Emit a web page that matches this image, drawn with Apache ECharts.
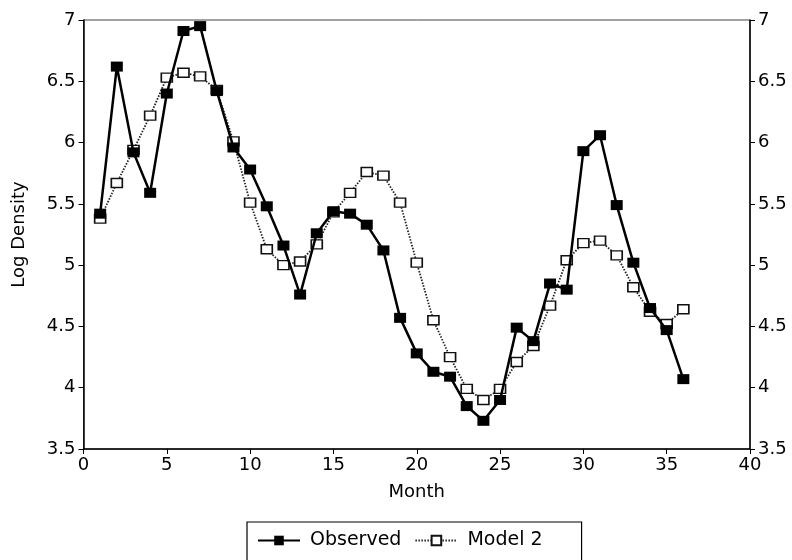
<!DOCTYPE html>
<html>
<head>
<meta charset="utf-8">
<script src="https://cdn.jsdelivr.net/npm/echarts@6/dist/echarts.min.js"></script>
<style>
  html, body { margin: 0; padding: 0; background: #fff; }
  #chart { width: 792px; height: 560px; }
</style>
</head>
<body>
<div id="chart"></div>
<script>
// Monthly log density: observed vs. fitted Model 2
const months = [1,2,3,4,5,6,7,8,9,10,11,12,13,14,15,16,17,18,19,20,21,22,23,24,25,26,27,28,29,30,31,32,33,34,35,36];
const observed = [5.42,6.62,5.92,5.59,6.40,6.91,6.95,6.42,5.96,5.78,5.48,5.16,4.76,5.26,5.44,5.42,5.33,5.12,4.57,4.28,4.13,4.09,3.85,3.73,3.90,4.49,4.38,4.85,4.80,5.93,6.06,5.49,5.02,4.65,4.47,4.07];
const model2 = [5.38,5.67,5.94,6.22,6.53,6.57,6.54,6.43,6.01,5.51,5.13,5.00,5.03,5.17,5.43,5.59,5.76,5.73,5.51,5.02,4.55,4.25,3.99,3.90,3.99,4.21,4.34,4.67,5.04,5.18,5.20,5.08,4.82,4.62,4.52,4.64];
const xTicks = { min: 0, max: 40, interval: 5 };
const yTicks = { min: 3.5, max: 7, interval: 0.5 };

const pairs = (xs, ys) => xs.map((x, i) => [x, ys[i]]);
const FONT = 'DejaVu Sans';

const yAxisBase = {
  type: 'value',
  min: yTicks.min, max: yTicks.max, interval: yTicks.interval,
  axisLine: { show: true, lineStyle: { color: '#000', width: 1.5 } },
  axisTick: { show: true, length: 5, lineStyle: { color: '#000', width: 1 } },
  splitLine: { show: false },
  axisLabel: { color: '#000', fontFamily: FONT, fontSize: 18, margin: 8 }
};

const chart = echarts.init(document.getElementById('chart'), null, { renderer: 'canvas' });
chart.setOption({
  animation: false,
  backgroundColor: '#fff',
  grid: {
    left: 83.5, right: 42, top: 20, bottom: 111,
    show: true, borderColor: '#444', borderWidth: 1, backgroundColor: 'transparent'
  },
  xAxis: {
    type: 'value',
    min: xTicks.min, max: xTicks.max, interval: xTicks.interval,
    name: 'Month', nameLocation: 'middle', nameGap: 34,
    nameTextStyle: { color: '#000', fontFamily: FONT, fontSize: 18 },
    axisLine: { show: true, lineStyle: { color: '#000', width: 1.5 } },
    axisTick: { show: true, length: 5, lineStyle: { color: '#000', width: 1 } },
    splitLine: { show: false },
    axisLabel: { color: '#000', fontFamily: FONT, fontSize: 18, margin: 7 }
  },
  yAxis: [
    Object.assign({}, yAxisBase, {
      position: 'left',
      name: 'Log Density', nameLocation: 'middle', nameGap: 55,
      nameTextStyle: { color: '#000', fontFamily: FONT, fontSize: 18 }
    }),
    Object.assign({}, yAxisBase, { position: 'right' })
  ],
  legend: {
    left: 247, top: 522,
    padding: [9, 39, 14, 10],
    borderColor: '#000', borderWidth: 1.2,
    itemWidth: 42, itemHeight: 12, itemGap: 13,
    textStyle: { color: '#000', fontFamily: FONT, fontSize: 19, padding: [0, 0, 0, 5] },
    data: ['Observed', 'Model 2']
  },
  series: [
    {
      name: 'Model 2',
      type: 'line',
      data: pairs(months, model2),
      symbol: 'rect', symbolSize: [11, 9],
      itemStyle: { color: '#fff', borderColor: '#111', borderWidth: 1.5 },
      lineStyle: { color: '#222', width: 1.8, type: [1.5, 1.5] },
      z: 2
    },
    {
      name: 'Observed',
      type: 'line',
      data: pairs(months, observed),
      symbol: 'rect', symbolSize: [12, 10],
      itemStyle: { color: '#000', borderColor: '#000', borderWidth: 0 },
      lineStyle: { color: '#000', width: 2.5, type: 'solid' },
      z: 3
    }
  ]
});
</script>
</body>
</html>
